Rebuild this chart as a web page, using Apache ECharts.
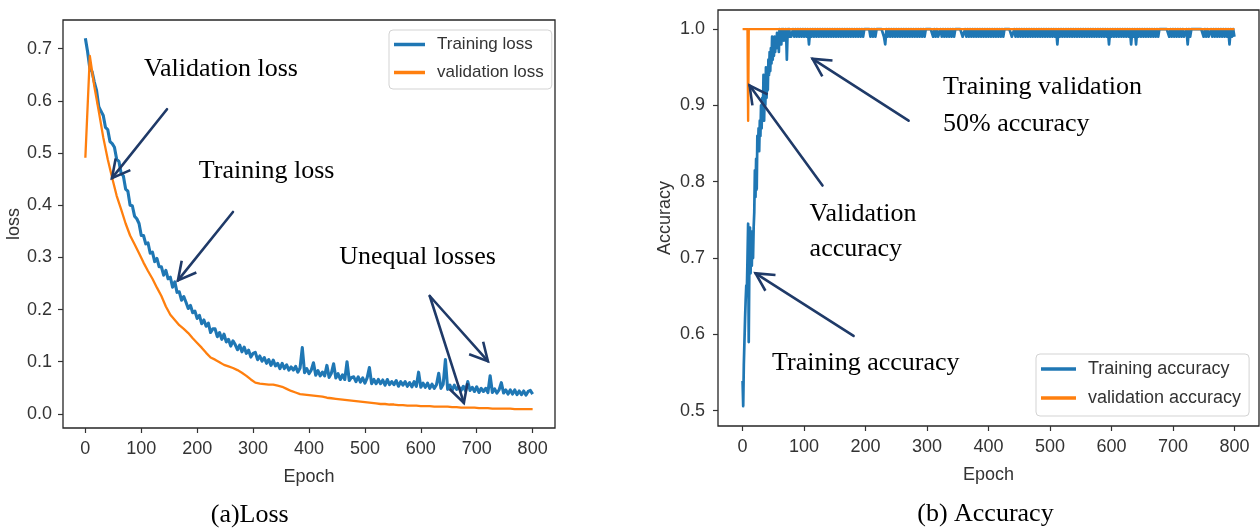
<!DOCTYPE html>
<html><head><meta charset="utf-8">
<script src="https://cdn.jsdelivr.net/npm/echarts@6/dist/echarts.min.js"></script>
<style>html,body{margin:0;padding:0;background:#fff}#c{width:1260px;height:532px}</style>
</head><body><div id="c"></div>
<script>
// ---------- tick labels ----------
const epochTicks = [0, 100, 200, 300, 400, 500, 600, 700, 800];
const lossTicks = [0.0, 0.1, 0.2, 0.3, 0.4, 0.5, 0.6, 0.7];
const accTicks = [0.5, 0.6, 0.7, 0.8, 0.9, 1.0];

// ---------- loss (a) ----------
const trainLossStep = 4; // epochs 0,4,8,...,800
const trainLoss = [
0.720,0.694,0.662,0.656,0.636,0.620,0.589,0.580,0.572,0.549,
0.545,0.522,0.518,0.511,0.488,0.484,0.461,0.456,0.431,0.427,
0.400,0.399,0.379,0.374,0.365,0.342,0.342,0.326,0.328,0.308,
0.310,0.292,0.298,0.282,0.282,0.266,0.275,0.259,0.262,0.243,
0.253,0.233,0.234,0.218,0.225,0.214,0.202,0.208,0.194,0.197,
0.183,0.189,0.173,0.180,0.168,0.174,0.156,0.163,0.163,0.148,
0.156,0.143,0.153,0.138,0.143,0.130,0.140,0.133,0.123,0.132,
0.119,0.128,0.116,0.122,0.109,0.116,0.118,0.104,0.111,0.101,
0.108,0.097,0.104,0.093,0.103,0.092,0.097,0.087,0.097,0.087,
0.094,0.084,0.090,0.084,0.091,0.080,0.088,0.127,0.079,0.087,
0.077,0.084,0.098,0.074,0.083,0.073,0.080,0.073,0.093,0.070,
0.078,0.096,0.069,0.077,0.066,0.075,0.066,0.100,0.064,0.070,
0.071,0.062,0.071,0.061,0.069,0.059,0.069,0.089,0.058,0.066,
0.058,0.066,0.058,0.065,0.055,0.066,0.056,0.062,0.056,0.064,
0.053,0.062,0.055,0.062,0.053,0.060,0.052,0.062,0.053,0.080,
0.051,0.059,0.051,0.059,0.049,0.057,0.049,0.056,0.078,0.049,
0.057,0.104,0.047,0.055,0.045,0.055,0.047,0.052,0.045,0.053,
0.044,0.062,0.045,0.051,0.043,0.052,0.041,0.049,0.043,0.049,
0.041,0.073,0.041,0.048,0.040,0.046,0.060,0.040,0.046,0.038,
0.046,0.038,0.046,0.037,0.044,0.037,0.044,0.036,0.043,0.045,
0.038
];
const valLossStep = 8; // epochs 0,8,16,...,800
const valLoss = [
0.491,0.686,0.628,0.580,0.530,0.488,0.452,0.418,0.392,0.365,
0.342,0.325,0.308,0.290,0.274,0.259,0.242,0.226,0.206,0.190,
0.180,0.170,0.163,0.155,0.145,0.136,0.127,0.117,0.108,0.104,
0.099,0.094,0.091,0.088,0.084,0.079,0.073,0.066,0.060,0.058,
0.057,0.056,0.056,0.054,0.052,0.048,0.044,0.041,0.038,0.037,
0.036,0.035,0.034,0.033,0.031,0.030,0.029,0.028,0.027,0.026,
0.025,0.024,0.023,0.022,0.021,0.020,0.019,0.019,0.018,0.018,
0.017,0.017,0.016,0.016,0.016,0.015,0.015,0.015,0.014,0.014,
0.014,0.014,0.013,0.013,0.012,0.012,0.012,0.012,0.011,0.011,
0.011,0.010,0.010,0.010,0.010,0.010,0.009,0.009,0.009,0.009,
0.009
];

// ---------- accuracy (b) ----------
const trainAccEarly = [ // epochs 0..79
0.539,0.506,0.560,0.590,0.620,0.645,0.664,0.660,0.700,0.745,
0.590,0.690,0.740,0.680,0.725,0.690,0.735,0.700,0.740,0.760,
0.815,0.780,0.830,0.790,0.860,0.840,0.870,0.840,0.880,0.860,
0.900,0.870,0.910,0.890,0.940,0.880,0.920,0.900,0.950,0.910,
0.940,0.920,0.960,0.940,0.970,0.945,0.975,0.955,0.990,0.960,
0.985,0.965,0.990,0.970,0.990,0.975,0.995,0.980,0.990,0.970,
1.000,0.985,0.995,0.980,1.000,0.990,1.000,0.985,0.995,0.990,
1.000,0.990,0.960,0.990,1.000,0.990,1.000,0.990,0.995,0.990
];
const trainAccLateStart = 80, trainAccLateStep = 2; // epochs 80,82,...,800
const trainAccLate = [
0.99,1.00,0.99,1.00,0.99,1.00,0.99,1.00,0.99,1.00,0.99,1.00,0.99,1.00,0.98,1.00,0.99,1.00,0.99,1.00,
0.99,1.00,0.99,1.00,0.99,1.00,0.99,1.00,0.99,1.00,0.99,1.00,0.99,1.00,0.99,1.00,0.99,1.00,0.99,1.00,
0.99,1.00,0.99,1.00,0.99,1.00,0.99,1.00,0.99,1.00,0.99,1.00,0.99,1.00,0.99,1.00,0.99,1.00,0.99,1.00,
1.00,1.00,1.00,1.00,0.99,1.00,0.99,1.00,0.99,1.00,1.00,1.00,1.00,1.00,1.00,0.99,0.98,1.00,0.99,1.00,
0.99,1.00,0.99,1.00,0.99,1.00,0.99,1.00,0.99,1.00,0.99,1.00,0.99,1.00,0.99,1.00,0.99,1.00,0.99,1.00,
0.99,1.00,0.99,1.00,0.99,1.00,0.99,1.00,0.99,1.00,1.00,1.00,1.00,1.00,1.00,0.99,1.00,0.99,1.00,0.99,
0.99,1.00,0.99,1.00,0.99,1.00,0.99,1.00,0.99,1.00,0.99,1.00,0.99,1.00,1.00,1.00,1.00,1.00,1.00,0.99,
0.99,1.00,0.99,1.00,0.99,1.00,0.99,1.00,0.99,1.00,0.99,1.00,0.99,1.00,0.99,1.00,0.99,1.00,0.99,1.00,
0.99,1.00,0.99,1.00,0.99,1.00,0.99,1.00,0.99,1.00,0.99,1.00,0.99,1.00,1.00,1.00,1.00,1.00,1.00,0.99,
0.99,1.00,0.99,1.00,0.99,1.00,0.99,1.00,0.99,1.00,0.99,1.00,0.99,1.00,0.99,1.00,0.99,1.00,0.99,1.00,
0.99,1.00,0.99,1.00,0.99,1.00,0.99,1.00,0.99,1.00,0.99,1.00,0.99,1.00,0.99,1.00,0.98,1.00,0.99,1.00,
0.99,1.00,0.99,1.00,0.99,1.00,0.99,1.00,0.99,1.00,0.99,1.00,0.99,1.00,0.99,1.00,0.99,1.00,0.99,1.00,
0.99,1.00,0.99,1.00,0.99,1.00,0.99,1.00,0.99,1.00,0.99,1.00,0.99,1.00,0.99,1.00,0.99,1.00,0.98,1.00,
0.99,1.00,0.99,1.00,0.99,1.00,0.99,1.00,0.99,1.00,0.99,1.00,0.99,1.00,0.99,1.00,0.98,1.00,0.99,1.00,
0.98,1.00,0.99,1.00,0.99,1.00,0.99,1.00,0.99,1.00,0.99,1.00,0.99,1.00,0.99,1.00,0.99,1.00,0.99,1.00,
1.00,1.00,1.00,1.00,1.00,1.00,1.00,0.99,1.00,0.99,1.00,0.99,1.00,0.99,1.00,0.99,1.00,0.99,1.00,0.99,
0.99,1.00,0.98,1.00,0.99,1.00,1.00,1.00,1.00,1.00,1.00,1.00,1.00,1.00,1.00,0.99,1.00,0.99,1.00,0.99,
0.99,1.00,0.99,1.00,0.99,1.00,0.99,1.00,0.99,1.00,0.99,1.00,0.99,1.00,0.99,1.00,0.98,1.00,0.99,1.00,
0.99
];
const valAccEpochs = [0, 8, 9, 10, 800];
const valAcc = [1.0, 1.0, 0.88, 1.0, 1.0];

// ---------- annotations (data coordinates) ----------
const lossNotes = [
  {text: 'Validation loss', at: [105, 0.66]},
  {text: 'Training loss', at: [203, 0.465]},
  {text: 'Unequal losses', at: [454, 0.301]}
];
const lossArrows = [
  {from: [146, 0.584], to: [47.6, 0.452]},
  {from: [264, 0.387], to: [165.6, 0.256]},
  {from: [616, 0.226], to: [677, 0.021]},
  {from: [616, 0.226], to: [720, 0.101]}
];
const accNotes = [
  {text: 'Training validation', at: [326, 0.924]},
  {text: '50% accuracy', at: [326, 0.876]},
  {text: 'Validation', at: [109, 0.758]},
  {text: 'accuracy', at: [109, 0.712]},
  {text: 'Training accuracy', at: [48, 0.562]}
];
const accArrows = [
  {from: [270, 0.880], to: [113.8, 0.961]},
  {from: [130, 0.795], to: [11.4, 0.926]},
  {from: [180.5, 0.598], to: [21.1, 0.680]}
];
const captions = [
  {text: '(a)Loss', at: [294, -0.194]},
  {text: '(b) Accuracy', at: [395, 0.365]}
];

// ---------- build ----------
const pairs = (vals, start, step) => vals.map((v, i) => [start + i * step, v]);
const trainLossData = pairs(trainLoss, 0, trainLossStep);
const valLossData = pairs(valLoss, 0, valLossStep);
const trainAccData = pairs(trainAccEarly, 0, 1).concat(pairs(trainAccLate, trainAccLateStart, trainAccLateStep));
const valAccData = valAccEpochs.map((e, i) => [e, valAcc[i]]);

const SANS = "'Liberation Sans', Arial, sans-serif";
const SERIF = "'Liberation Serif', 'DejaVu Serif', serif";
const BLUE = '#1f77b4', ORANGE = '#ff7f0e', ARROW = '#1f3a68';

function xAx(grid, fs) {
  return {
    type: 'value', gridIndex: grid, min: -40, max: 840,
    name: 'Epoch', nameLocation: 'middle', nameGap: 40,
    nameTextStyle: {fontFamily: SANS, fontSize: fs, color: '#333'},
    axisLine: {show: false, onZero: false},
    axisTick: {show: true, length: 5, inside: false, customValues: epochTicks, lineStyle: {color: '#333', width: 1.2}},
    axisLabel: {customValues: epochTicks, margin: 12, fontFamily: SANS, fontSize: fs, color: '#333'},
    splitLine: {show: false}
  };
}
function yAx(grid, min, max, ticks, name, gap, fs, margin) {
  return {
    type: 'value', gridIndex: grid, min: min, max: max,
    name: name, nameLocation: 'middle', nameGap: gap, nameRotate: 90,
    nameTextStyle: {fontFamily: SANS, fontSize: fs, color: '#333'},
    axisLine: {show: false, onZero: false},
    axisTick: {show: true, length: 5, customValues: ticks, lineStyle: {color: '#333', width: 1.2}},
    axisLabel: {customValues: ticks, margin: margin, fontFamily: SANS, fontSize: fs, color: '#333',
      formatter: v => v.toFixed(1)},
    splitLine: {show: false}
  };
}
function legend(left, top, names, fs, pad, gap, iw) {
  return {
    orient: 'vertical', left: left, top: top, data: names,
    icon: 'rect', itemWidth: iw, itemHeight: 3.5, itemGap: gap,
    padding: pad, borderColor: '#d3d3d3', borderWidth: 1, borderRadius: 4,
    backgroundColor: 'rgba(255,255,255,0.85)',
    textStyle: {fontFamily: SANS, fontSize: fs, color: '#333', lineHeight: fs, padding: [0, 0, 0, 7]}
  };
}
function line(name, data, color, xi, yi, w) {
  return {
    type: 'line', name: name, data: data, xAxisIndex: xi, yAxisIndex: yi,
    symbol: 'none', showSymbol: false, smooth: false,
    lineStyle: {color: color, width: w, join: 'round'}, itemStyle: {color: color}, animation: false
  };
}

const chart = echarts.init(document.getElementById('c'), null, {renderer: 'canvas'});
chart.setOption({
  backgroundColor: '#fff',
  animation: false,
  grid: [
    {left: 63, top: 20, width: 492, height: 408, show: true, borderColor: '#262626', borderWidth: 1.3, backgroundColor: 'transparent'},
    {left: 718, top: 10, width: 541, height: 416, show: true, borderColor: '#262626', borderWidth: 1.3, backgroundColor: 'transparent'}
  ],
  xAxis: [xAx(0, 18), xAx(1, 18)],
  yAxis: [
    yAx(0, -0.027, 0.755, lossTicks, 'loss', 36, 18, 11),
    yAx(1, 0.48, 1.025, accTicks, 'Accuracy', 44, 18, 13)
  ],
  legend: [
    legend(389, 30, ['Training loss', 'validation loss'], 17, [6, 8, 8, 5], 11, 31),
    legend(1036, 354, ['Training accuracy', 'validation accuracy'], 18, [6, 8, 9, 5], 11, 35)
  ],
  series: [
    line('Training loss', trainLossData, BLUE, 0, 0, 3.1),
    line('validation loss', valLossData, ORANGE, 0, 0, 2.3),
    line('Training accuracy', trainAccData, BLUE, 1, 1, 2.7),
    line('validation accuracy', valAccData, ORANGE, 1, 1, 2.4)
  ]
});

// ---------- annotation graphics (positioned through the chart's own scales) ----------
const els = [];
function px(g, p) { return chart.convertToPixel({gridIndex: g}, p); }
function addArrow(g, a) {
  const t = px(g, a.from), h = px(g, a.to);
  els.push({type: 'line', z: 100, shape: {x1: t[0], y1: t[1], x2: h[0], y2: h[1]},
    style: {stroke: ARROW, lineWidth: 2.6, lineCap: 'round'}});
  const ang = Math.atan2(t[1] - h[1], t[0] - h[0]);
  const L = 20, spread = 28 * Math.PI / 180;
  const a1 = [h[0] + L * Math.cos(ang + spread), h[1] + L * Math.sin(ang + spread)];
  const a2 = [h[0] + L * Math.cos(ang - spread), h[1] + L * Math.sin(ang - spread)];
  els.push({type: 'polyline', z: 100, shape: {points: [a1, h, a2]},
    style: {stroke: ARROW, lineWidth: 2.6, fill: null, lineJoin: 'miter'}});
}
function addNote(g, n, align) {
  const p = px(g, n.at);
  els.push({type: 'text', z: 100, x: p[0], y: p[1],
    style: {text: n.text, fill: '#000', fontFamily: SERIF, fontSize: 26,
      align: align, verticalAlign: 'middle', textAlign: align, textVerticalAlign: 'middle'}});
}
lossArrows.forEach(a => addArrow(0, a));
accArrows.forEach(a => addArrow(1, a));
lossNotes.forEach(n => addNote(0, n, 'left'));
accNotes.forEach(n => addNote(1, n, 'left'));
addNote(0, captions[0], 'center');
addNote(1, captions[1], 'center');
chart.setOption({graphic: els});
</script>
</body></html>
